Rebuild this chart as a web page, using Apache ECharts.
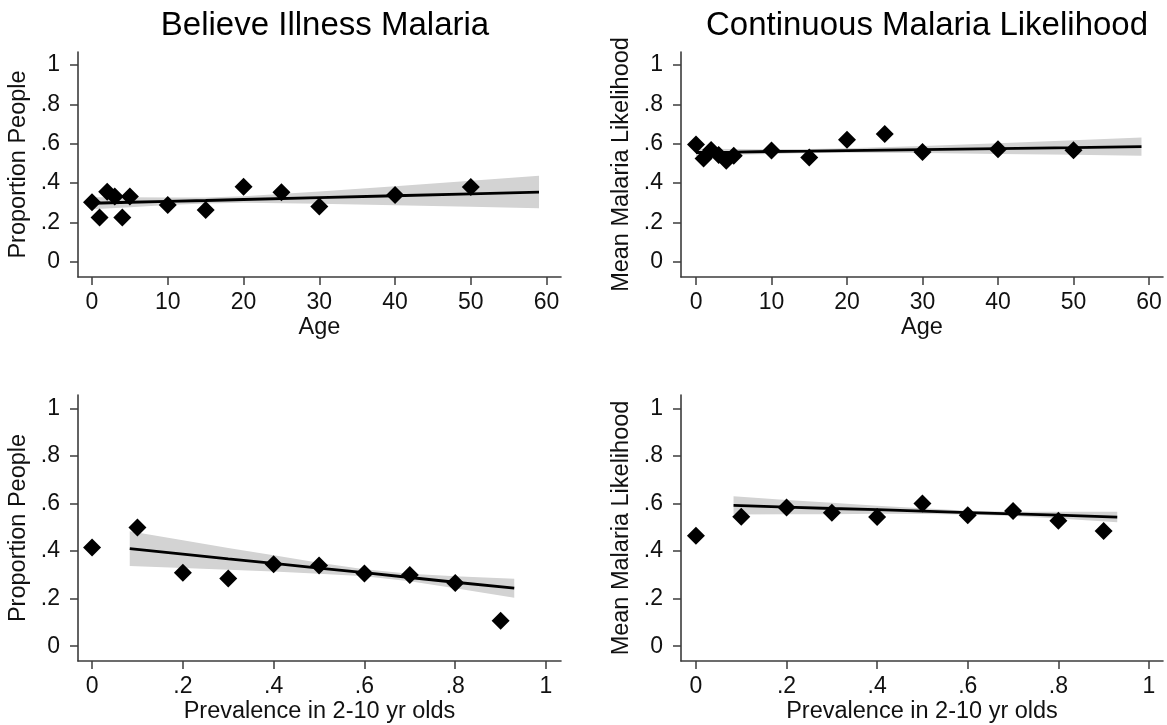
<!DOCTYPE html>
<html>
	<head>
		<meta charset="UTF-8">
		<title>Malaria beliefs</title>
		<script type="text/javascript" src="https://cdn.jsdelivr.net/npm/echarts@6/dist/echarts.min.js"></script>
		<style type="text/css">
			* {
				padding: 0;
				margin: 0;
			}
			#main {
				width: 1167px;
				height: 725px;
				background: #fff;
			}
		</style>
	</head>
	<body>
		<div id="main"></div>
		<script type="text/javascript">
			// binned points
			var ages = [0, 1, 2, 3, 4, 5, 10, 15, 20, 25, 30, 40, 50];
			var believeByAge = [0.302, 0.224, 0.356, 0.331, 0.224, 0.331, 0.288, 0.263, 0.381, 0.353, 0.280, 0.339, 0.380];
			var likelihoodByAge = [0.596, 0.525, 0.568, 0.542, 0.513, 0.538, 0.565, 0.530, 0.620, 0.649, 0.557, 0.572, 0.567];

			var prevalence = [0, 0.1, 0.2, 0.3, 0.4, 0.5, 0.6, 0.7, 0.8, 0.9];
			var believeByPrev = [0.415, 0.499, 0.309, 0.285, 0.345, 0.339, 0.306, 0.299, 0.266, 0.107];
			var likelihoodByPrev = [0.464, 0.544, 0.583, 0.561, 0.543, 0.600, 0.551, 0.568, 0.527, 0.484];

			// fitted lines with 95% band
			var ageFitX = [0, 5, 10, 15, 20, 30, 40, 50, 59];
			var believeAgeFit = [0.297, 0.302, 0.307, 0.311, 0.316, 0.326, 0.335, 0.345, 0.354];
			var believeAgeHi = [0.327, 0.327, 0.326, 0.326, 0.333, 0.357, 0.383, 0.411, 0.437];
			var believeAgeLo = [0.267, 0.277, 0.288, 0.296, 0.299, 0.295, 0.287, 0.279, 0.271];
			var likeAgeFit = [0.555, 0.557, 0.560, 0.562, 0.565, 0.570, 0.575, 0.580, 0.585];
			var likeAgeHi = [0.574, 0.573, 0.572, 0.573, 0.576, 0.588, 0.602, 0.617, 0.631];
			var likeAgeLo = [0.536, 0.543, 0.548, 0.553, 0.554, 0.552, 0.548, 0.543, 0.539];

			var prevFitX = [0.083, 0.2, 0.3, 0.4, 0.5, 0.6, 0.7, 0.8, 0.93];
			var believePrevFit = [0.410, 0.387, 0.367, 0.348, 0.328, 0.309, 0.289, 0.269, 0.244];
			var believePrevHi = [0.483, 0.445, 0.413, 0.382, 0.351, 0.324, 0.305, 0.294, 0.284];
			var believePrevLo = [0.337, 0.329, 0.321, 0.314, 0.305, 0.294, 0.273, 0.244, 0.204];
			var likePrevFit = [0.592, 0.585, 0.579, 0.574, 0.568, 0.562, 0.556, 0.551, 0.543];
			var likePrevHi = [0.630, 0.615, 0.603, 0.591, 0.580, 0.570, 0.565, 0.565, 0.565];
			var likePrevLo = [0.554, 0.555, 0.555, 0.557, 0.556, 0.554, 0.547, 0.537, 0.521];

			var yTicks = [0, 0.2, 0.4, 0.6, 0.8, 1];
			var ageTicks = [0, 10, 20, 30, 40, 50, 60];
			var prevTicks = [0, 0.2, 0.4, 0.6, 0.8, 1];

			var FONT = 'Liberation Sans, Arial, sans-serif';
			var AXIS_COLOR = '#3c3c3c';

			function stataNum(v) {
				var s = String(Math.round(v * 1000) / 1000);
				return s.replace(/^0\./, '.');
			}

			function zip(xs, ys) {
				return xs.map(function(x, i) {
					return [x, ys[i]];
				});
			}

			function makeX(idx, min, max, ticks, name) {
				return {
					gridIndex: idx,
					type: 'value',
					min: min,
					max: max,
					name: name,
					nameLocation: 'middle',
					nameGap: 39,
					nameTextStyle: { fontFamily: FONT, fontSize: 23.5, color: '#111' },
					splitLine: { show: false },
					axisLine: { onZero: false, lineStyle: { color: AXIS_COLOR, width: 1.6 } },
					axisTick: { customValues: ticks, length: 8, lineStyle: { color: AXIS_COLOR, width: 1.5 } },
					axisLabel: { customValues: ticks, formatter: stataNum, margin: 14, fontFamily: FONT, fontSize: 23, color: '#111' }
				};
			}

			function makeY(idx, min, max, name) {
				return {
					gridIndex: idx,
					type: 'value',
					min: min,
					max: max,
					name: name,
					nameLocation: 'middle',
					nameGap: 47,
					nameTextStyle: { fontFamily: FONT, fontSize: 23.5, color: '#111' },
					splitLine: { show: false },
					axisLine: { onZero: false, lineStyle: { color: AXIS_COLOR, width: 1.6 } },
					axisTick: { customValues: yTicks, length: 8, lineStyle: { color: AXIS_COLOR, width: 1.5 } },
					axisLabel: { customValues: yTicks, formatter: stataNum, margin: 18, fontFamily: FONT, fontSize: 23, color: '#111' }
				};
			}

			// shaded confidence band as one polygon built from the data
			function bandSeries(idx, xs, lo, hi) {
				return {
					type: 'custom',
					xAxisIndex: idx,
					yAxisIndex: idx,
					silent: true,
					z: 1,
					data: xs.map(function(x, i) {
						return [x, lo[i], hi[i]];
					}),
					renderItem: function(params, api) {
						if (params.dataIndexInside !== 0) return;
						var n = params.dataInsideLength;
						var top = [], bot = [];
						for (var k = 0; k < n; k++) {
							top.push(api.coord([api.value(0, k), api.value(2, k)]));
							bot.push(api.coord([api.value(0, k), api.value(1, k)]));
						}
						return {
							type: 'polygon',
							shape: { points: top.concat(bot.reverse()) },
							style: { fill: '#d3d3d3' }
						};
					}
				};
			}

			function fitSeries(idx, xs, ys) {
				return {
					type: 'line',
					xAxisIndex: idx,
					yAxisIndex: idx,
					data: zip(xs, ys),
					symbol: 'none',
					silent: true,
					z: 3,
					lineStyle: { color: '#000', width: 2.8 }
				};
			}

			function dotSeries(idx, xs, ys) {
				return {
					type: 'scatter',
					xAxisIndex: idx,
					yAxisIndex: idx,
					data: zip(xs, ys),
					symbol: 'diamond',
					symbolSize: 18,
					z: 4,
					itemStyle: { color: '#000', opacity: 1 }
				};
			}

			var myChart = echarts.init(document.getElementById('main'));

			myChart.setOption({
				backgroundColor: '#fff',
				animation: false,
				title: [{
					text: 'Believe Illness Malaria',
					left: 320,
					top: 4,
					textAlign: 'center',
					textStyle: { fontFamily: FONT, fontSize: 33, fontWeight: 'normal', color: '#000' }
				}, {
					text: 'Continuous Malaria Likelihood',
					left: 922,
					top: 4,
					textAlign: 'center',
					textStyle: { fontFamily: FONT, fontSize: 33, fontWeight: 'normal', color: '#000' }
				}],
				grid: [
					{ left: 78, top: 52, width: 483, height: 225 },
					{ left: 681, top: 52, width: 482, height: 225 },
					{ left: 78, top: 395, width: 483, height: 266 },
					{ left: 681, top: 395, width: 482, height: 266 }
				],
				xAxis: [
					makeX(0, -1.85, 61.9, ageTicks, 'Age'),
					makeX(1, -1.99, 61.85, ageTicks, 'Age'),
					makeX(2, -0.031, 1.033, prevTicks, 'Prevalence in 2-10 yr olds'),
					makeX(3, -0.033, 1.031, prevTicks, 'Prevalence in 2-10 yr olds')
				],
				yAxis: [
					makeY(0, -0.078, 1.066, 'Proportion People'),
					makeY(1, -0.078, 1.066, 'Mean Malaria Likelihood'),
					makeY(2, -0.062, 1.056, 'Proportion People'),
					makeY(3, -0.062, 1.056, 'Mean Malaria Likelihood')
				],
				series: [
					bandSeries(0, ageFitX, believeAgeLo, believeAgeHi),
					fitSeries(0, ageFitX, believeAgeFit),
					dotSeries(0, ages, believeByAge),

					bandSeries(1, ageFitX, likeAgeLo, likeAgeHi),
					fitSeries(1, ageFitX, likeAgeFit),
					dotSeries(1, ages, likelihoodByAge),

					bandSeries(2, prevFitX, believePrevLo, believePrevHi),
					fitSeries(2, prevFitX, believePrevFit),
					dotSeries(2, prevalence, believeByPrev),

					bandSeries(3, prevFitX, likePrevLo, likePrevHi),
					fitSeries(3, prevFitX, likePrevFit),
					dotSeries(3, prevalence, likelihoodByPrev)
				]
			});
		</script>
	</body>
</html>
